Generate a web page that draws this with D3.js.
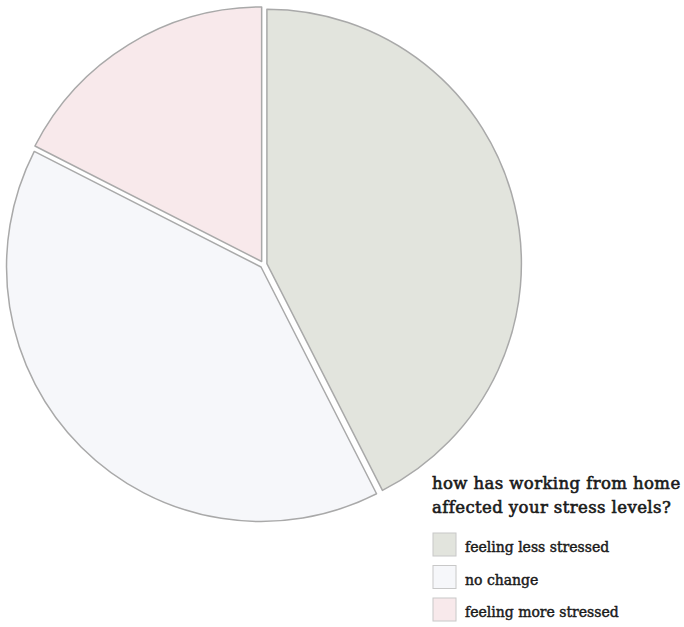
<!DOCTYPE html>
<html>
<head>
<meta charset="utf-8">
<script src="https://cdn.jsdelivr.net/npm/d3@7"></script>
<style>
  html, body { margin: 0; padding: 0; background: #ffffff; }
  svg { display: block; }
  text { font-family: "DejaVu Serif", serif; fill: #1a1a1a; }
</style>
</head>
<body>
<svg id="chart" width="684" height="627"></svg>
<script>
// Survey responses (count of respondents per answer)
const categories = ["feeling less stressed", "no change", "feeling more stressed"];
const counts = [17, 16, 7];
const colors = ["#e2e4dd", "#f6f7fa", "#f8e9eb"];
const titleLines = ["how has working from home", "affected your stress levels?"];

const svg = d3.select("#chart");
const width = 684, height = 627;

const cx = 263.5, cy = 264.5, radius = 254.5, explode = 3.5;

const pie = d3.pie().sort(null).value(d => d.value);
const arc = d3.arc().innerRadius(0).outerRadius(radius);

const data = categories.map((c, i) => ({ name: c, value: counts[i], color: colors[i] }));
const arcs = pie(data);

const g = svg.append("g").attr("transform", `translate(${cx},${cy})`);

// Slices pulled slightly outward along their bisectors
g.selectAll("path.slice")
  .data(arcs)
  .join("path")
  .attr("class", "slice")
  .attr("transform", d => {
    const a = (d.startAngle + d.endAngle) / 2;
    return `translate(${Math.sin(a) * explode},${-Math.cos(a) * explode})`;
  })
  .attr("d", arc)
  .attr("fill", d => d.data.color)
  .attr("stroke", "#a9a9a9")
  .attr("stroke-width", 1.5)
  .attr("stroke-linejoin", "round");

// Legend with title
const legend = svg.append("g").attr("transform", "translate(432,0)");

legend.selectAll("text.title")
  .data(titleLines)
  .join("text")
  .attr("class", "title")
  .attr("x", 0)
  .attr("y", (d, i) => 489 + i * 23.5)
  .attr("font-size", 16.5)
  .attr("letter-spacing", 0.4)
  .attr("stroke", "#1a1a1a")
  .attr("stroke-width", 0.6)
  .text(d => d);

const items = legend.selectAll("g.item")
  .data(data)
  .join("g")
  .attr("class", "item")
  .attr("transform", (d, i) => `translate(0,${533 + i * 32.5})`);

items.append("rect")
  .attr("x", 1)
  .attr("y", 0)
  .attr("width", 23)
  .attr("height", 23)
  .attr("fill", d => d.color)
  .attr("stroke", "#c8c8c8")
  .attr("stroke-width", 1);

items.append("text")
  .attr("x", 33)
  .attr("y", 19)
  .attr("font-size", 14)
  .attr("stroke", "#1a1a1a")
  .attr("stroke-width", 0.45)
  .text(d => d.name);
</script>
</body>
</html>
